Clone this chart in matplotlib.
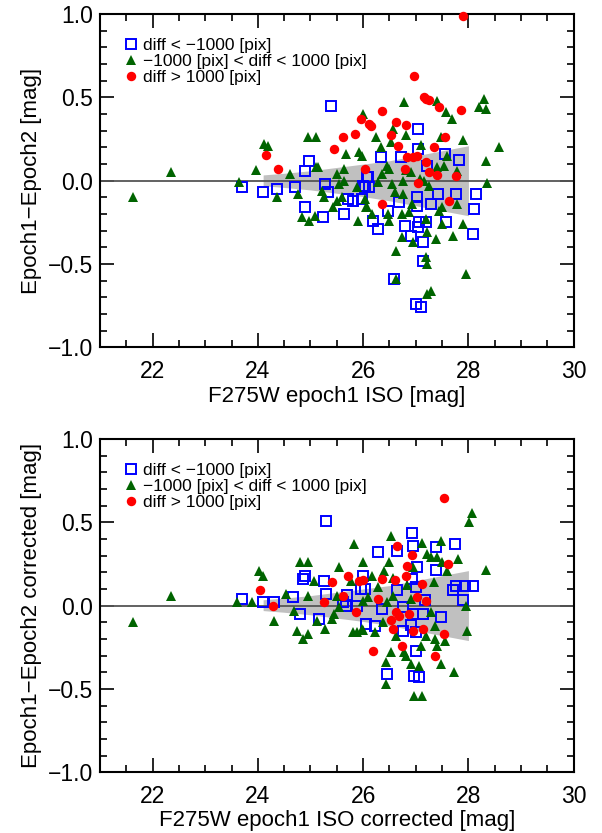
import matplotlib
matplotlib.use("Agg")
import matplotlib.pyplot as plt
from matplotlib.ticker import MultipleLocator

plt.rcParams['font.family'] = ['Liberation Sans', 'DejaVu Sans']

# ---- top panel data (epoch1 - epoch2) ----
top_sq_x = [23.7, 24.09, 24.36, 24.7, 24.89, 25.27, 25.33, 25.23, 25.63, 25.72, 25.8, 25.97, 26.03,
            26.07, 25.38, 24.97, 24.89, 27.05, 27.05, 26.33, 26.71, 27.55, 27.83, 27.22, 26.1, 26.0,
            26.12, 27.02, 27.43, 27.77, 28.15, 26.69, 27.03, 27.28, 28.1, 26.48, 26.18, 26.29, 26.79,
            27.07, 27.2, 27.05, 27.57, 26.9, 27.13, 28.08, 27.13, 26.58, 27.0, 27.1]
top_sq_y = [-0.04, -0.07, -0.05, -0.035, -0.16, -0.02, -0.065, -0.22, -0.2, -0.11, -0.12, -0.11, -0.04,
            0.02, 0.45, 0.12, 0.06, 0.31, 0.19, 0.14, 0.14, 0.16, 0.125, 0.09, 0.02, -0.03,
            -0.04, -0.1, -0.08, -0.08, -0.08, -0.13, -0.15, -0.14, -0.17, -0.18, -0.24, -0.29, -0.27,
            -0.25, -0.25, -0.28, -0.25, -0.33, -0.37, -0.32, -0.48, -0.59, -0.74, -0.76]

top_tri_x = [21.63, 22.35, 23.64, 23.96, 24.11, 24.19, 24.95, 25.1, 24.62, 25.14, 25.1, 25.67, 25.93,
             25.5, 25.63, 25.63, 25.55, 25.88, 26.0, 24.36, 24.76, 24.83, 24.98, 25.08, 25.25, 25.42,
             25.5, 25.6, 25.21, 25.91, 26.07, 26.77, 27.41, 27.58, 27.68, 28.29, 28.21, 28.34, 26.24,
             26.82, 26.52, 26.33, 27.1, 27.47, 27.89, 25.97, 26.56, 26.45, 26.5, 27.6, 27.53, 27.79,
             28.34, 28.59, 28.36, 26.81, 26.75, 26.35, 26.28, 26.55, 26.9, 27.08, 27.15, 27.25, 27.4,
             26.6, 26.75, 26.03, 26.05, 26.16, 26.47, 26.5, 26.73, 26.88, 26.92, 27.2, 27.22, 27.39,
             27.7, 27.89, 27.5, 27.5, 27.79, 27.45, 26.63, 26.94, 26.73, 27.2, 27.22, 26.63, 27.96,
             27.22, 27.29]
top_tri_y = [-0.1, 0.055, -0.01, 0.065, 0.22, 0.21, 0.26, 0.26, 0.04, 0.085, 0.08, 0.16, 0.17,
             0.04, 0.07, 0.0, -0.02, -0.035, 0.4, -0.1, -0.08, -0.22, -0.24, -0.21, -0.1, -0.16,
             -0.12, -0.1, -0.06, -0.24, -0.16, 0.475, 0.48, 0.41, 0.37, 0.49, 0.44, 0.43, 0.26,
             0.275, 0.235, 0.2, 0.215, 0.265, 0.245, 0.15, 0.31, 0.09, 0.07, 0.15, 0.09, 0.06,
             0.12, 0.2, -0.015, 0.065, 0.0, 0.04, -0.01, -0.02, 0.05, 0.01, 0.0, -0.03, 0.08,
             -0.07, -0.08, -0.11, -0.16, -0.2, -0.2, -0.24, -0.2, -0.19, -0.14, -0.23, -0.31, -0.35,
             -0.33, -0.26, -0.26, -0.16, -0.14, -0.18, -0.42, -0.37, -0.34, -0.46, -0.5, -0.59, -0.56,
             -0.68, -0.66]

top_cir_x = [24.15, 24.38, 25.44, 25.61, 25.84, 25.95, 26.12, 26.03, 27.89, 26.96, 27.15, 27.2, 27.25,
             27.45, 27.85, 26.35, 26.14, 26.62, 26.81, 26.52, 26.67, 27.34, 27.55, 26.79, 26.94, 27.02,
             26.84, 27.19, 27.26, 27.41, 27.76, 27.05, 26.35, 27.64]
top_cir_y = [0.155, 0.07, 0.19, 0.26, 0.28, 0.37, 0.34, 0.07, 0.99, 0.63, 0.5, 0.49, 0.485,
             0.445, 0.425, 0.42, 0.33, 0.35, 0.335, 0.275, 0.21, 0.205, 0.265, 0.07, 0.14, 0.15,
             0.14, 0.115, 0.05, 0.035, 0.03, -0.015, -0.14, -0.12]

# ---- bottom panel data (corrected) ----
bot_sq_x = [25.29, 24.89, 24.85, 25.25, 25.29, 23.69, 24.09, 24.3, 24.66, 25.7, 25.61, 25.68, 25.88,
            26.0, 25.95, 26.03, 24.81, 25.16, 26.05, 26.92, 26.29, 26.65, 26.95, 27.38, 27.74, 27.03,
            27.39, 26.92, 26.65, 27.0, 27.7, 27.77, 27.93, 28.08, 27.17, 27.9, 26.35, 26.75, 26.94,
            27.13, 27.47, 26.22, 26.9, 26.75, 27.0, 27.0, 26.45, 26.96, 27.07]
bot_sq_y = [0.51, 0.18, 0.16, 0.15, 0.07, 0.04, 0.02, 0.02, 0.05, 0.065, 0.02, 0.0, 0.0,
            0.175, 0.1, 0.1, -0.05, -0.08, -0.11, 0.435, 0.32, 0.33, 0.355, 0.35, 0.37, 0.23,
            0.215, 0.16, 0.095, 0.11, 0.095, 0.115, 0.12, 0.115, 0.035, 0.035, -0.02, -0.01, -0.05,
            -0.05, -0.07, -0.125, -0.115, -0.155, -0.16, -0.275, -0.41, -0.425, -0.43]

bot_tri_x = [21.63, 22.35, 25.82, 24.81, 24.96, 24.02, 24.09, 25.55, 25.99, 25.06, 25.76, 24.53, 24.95,
             23.88, 23.6, 25.5, 24.68, 24.3, 24.74, 24.95, 24.86, 25.12, 25.27, 25.4, 25.45, 25.55,
             25.8, 25.88, 25.97, 26.0, 28.06, 28.02, 26.52, 27.11, 27.47, 27.22, 27.29, 27.41, 27.81,
             27.5, 27.6, 28.34, 26.5, 26.39, 26.94, 26.16, 26.56, 27.34, 26.84, 26.28, 26.56, 27.96,
             26.1, 26.45, 26.9, 27.29, 27.36, 27.98, 27.2, 27.37, 27.55, 27.41, 26.62, 26.22, 26.37,
             26.0, 26.52, 26.77, 26.82, 27.09, 26.43, 26.9, 27.07, 27.47, 27.72, 26.43, 26.96, 27.11]
bot_tri_y = [-0.1, 0.06, 0.37, 0.26, 0.26, 0.21, 0.175, 0.23, 0.26, 0.15, 0.15, 0.07, 0.055,
             0.02, 0.02, 0.06, -0.03, -0.09, -0.155, -0.17, -0.2, -0.095, -0.14, -0.08, -0.05, -0.01,
             -0.16, -0.16, -0.14, 0.03, 0.555, 0.5, 0.42, 0.375, 0.39, 0.31, 0.29, 0.29, 0.28,
             0.26, 0.205, 0.215, 0.26, 0.205, 0.23, 0.175, 0.165, 0.14, 0.125, 0.11, 0.055, -0.005,
             0.05, 0.02, 0.04, -0.04, -0.125, -0.155, -0.18, -0.2, -0.215, -0.245, -0.18, -0.16, -0.1,
             -0.145, -0.28, -0.28, -0.3, -0.245, -0.34, -0.35, -0.365, -0.35, -0.4, -0.47, -0.54, -0.54]

bot_cir_x = [24.05, 25.4, 25.72, 25.93, 25.25, 24.28, 25.61, 25.86, 27.53, 26.65, 26.92, 26.84, 27.62,
             27.11, 26.81, 26.35, 26.6, 26.0, 26.28, 27.02, 27.19, 26.62, 26.52, 26.69, 26.88, 26.56,
             26.94, 27.13, 27.53, 26.18, 26.73, 27.37]
bot_cir_y = [0.095, 0.14, 0.175, 0.15, 0.02, 0.0, 0.055, -0.04, 0.645, 0.36, 0.305, 0.235, 0.25,
             0.13, 0.175, 0.16, 0.155, 0.155, 0.04, 0.05, 0.025, -0.04, -0.085, -0.065, -0.05, -0.14,
             -0.155, -0.14, -0.17, -0.27, -0.245, -0.3]

# grey scatter band
band_x = [24.1, 24.5, 25.0, 25.5, 26.0, 26.5, 27.0, 27.5, 28.0]
band_hi = [0.035, 0.045, 0.06, 0.08, 0.10, 0.12, 0.15, 0.18, 0.21]
band_lo = [-0.03, -0.04, -0.055, -0.075, -0.095, -0.12, -0.15, -0.18, -0.21]

labels = ['diff < \u22121000 [pix]', '\u22121000 [pix] < diff < 1000 [pix]', 'diff > 1000 [pix]']


def draw_panel(ax, sq_x, sq_y, tri_x, tri_y, cir_x, cir_y, xlabel, ylabel):
    ax.fill_between(band_x, band_lo, band_hi, color='#c0c0c0', lw=0, zorder=1)
    ax.axhline(0, color='#555555', lw=1.3, zorder=2)
    ax.plot(sq_x, sq_y, 's', mfc='none', mec='#0000ff', mew=1.4, ms=6.8, ls='none',
            label=labels[0], zorder=3, clip_on=False)
    ax.plot(tri_x, tri_y, '^', color='#006400', ms=6.8, ls='none', mew=0,
            label=labels[1], zorder=3, clip_on=False)
    ax.plot(cir_x, cir_y, 'o', color='#ff0000', ms=6.8, ls='none', mew=0,
            label=labels[2], zorder=3, clip_on=False)
    ax.set_xlim(21, 30)
    ax.set_ylim(-1.0, 1.0)
    ax.xaxis.set_major_locator(MultipleLocator(2))
    ax.xaxis.set_minor_locator(MultipleLocator(0.5))
    ax.yaxis.set_major_locator(MultipleLocator(0.5))
    ax.yaxis.set_minor_locator(MultipleLocator(0.1))
    ax.tick_params(which='both', direction='in', top=True, right=True, width=1.2,
                   labelsize=16.5)
    ax.tick_params(axis='x', pad=9)
    ax.tick_params(axis='y', pad=5)
    ax.tick_params(which='major', length=10)
    ax.tick_params(which='minor', length=5)
    ax.set_yticks([-1.0, -0.5, 0.0, 0.5, 1.0])
    ax.set_yticklabels(['\u22121.0', '\u22120.5', '0.0', '0.5', '1.0'])
    ax.set_xticks([22, 24, 26, 28, 30])
    for s in ax.spines.values():
        s.set_linewidth(1.5)
    ax.set_xlabel(xlabel, fontsize=16, labelpad=2)
    ax.set_ylabel(ylabel, fontsize=16, labelpad=4)
    ax.legend(loc='upper left', frameon=False, fontsize=12.5, handletextpad=0.1,
              borderaxespad=0.5, labelspacing=0.05, handlelength=1.2,
              bbox_to_anchor=(0.01, 0.975))


fig = plt.figure(figsize=(6.02, 8.33), dpi=100)
ax1 = fig.add_axes([0.166, 0.583, 0.787, 0.40])
ax2 = fig.add_axes([0.166, 0.073, 0.787, 0.40])

draw_panel(ax1, top_sq_x, top_sq_y, top_tri_x, top_tri_y, top_cir_x, top_cir_y,
           'F275W epoch1 ISO [mag]', 'Epoch1\u2212Epoch2 [mag]')
draw_panel(ax2, bot_sq_x, bot_sq_y, bot_tri_x, bot_tri_y, bot_cir_x, bot_cir_y,
           'F275W epoch1 ISO corrected [mag]', 'Epoch1\u2212Epoch2 corrected [mag]')

fig.savefig('out.png', dpi=100)
